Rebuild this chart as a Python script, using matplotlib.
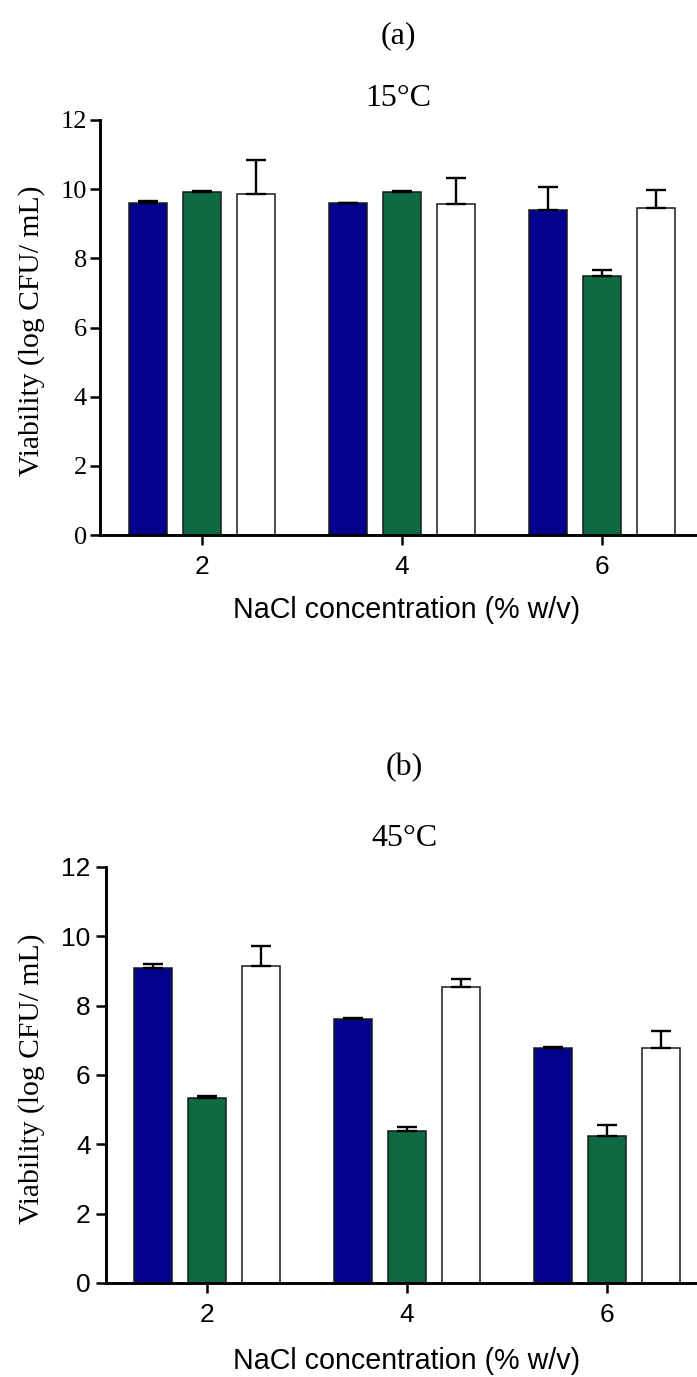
import matplotlib
matplotlib.use('Agg')
import matplotlib.pyplot as plt
import numpy as np

# NaCl concentration (% w/v)
nacl = ['2', '4', '6']

# 15 C panel
blue_15 = [9.59, 9.59, 9.39]
blue_15_err = [0.08, 0.02, 0.66]
green_15 = [9.93, 9.93, 7.49]
green_15_err = [0.03, 0.01, 0.17]
white_15 = [9.85, 9.57, 9.45]
white_15_err = [0.99, 0.75, 0.53]

# 45 C panel
blue_45 = [9.09, 7.61, 6.79]
blue_45_err = [0.10, 0.02, 0.01]
green_45 = [5.34, 4.39, 4.23]
green_45_err = [0.05, 0.12, 0.33]
white_45 = [9.14, 8.53, 6.77]
white_45_err = [0.58, 0.25, 0.49]

yticks = [0, 2, 4, 6, 8, 10, 12]

serif = 'Liberation Serif'
sans = 'Liberation Sans'
W, H = 697, 1377

fig = plt.figure(figsize=(W / 100, H / 100), dpi=100)


def draw_panel(ax, series, xlim, ytick_font, ytick_pad):
    x = np.arange(len(nacl))
    width = 0.19
    offsets = [-0.27, 0, 0.27]
    colors = ['#02028C', '#0E6A43', 'white']
    for (vals, errs), off, col in zip(series, offsets, colors):
        ax.bar(x + off, vals, width, color=col, edgecolor='#1a1a1a',
               linewidth=1.1, zorder=2)
        ax.errorbar(x + off, vals, yerr=[np.zeros(len(errs)), errs],
                    fmt='none', ecolor='black', elinewidth=1.7,
                    capsize=7, capthick=1.7, zorder=3)
    ax.set_xlim(*xlim)
    ax.set_ylim(0, 12)
    ax.set_yticks(yticks)
    ax.set_xticks(x)
    ax.set_xticklabels(nacl, fontfamily=sans, fontsize=19)
    ax.set_yticklabels([str(t) for t in yticks], fontfamily=ytick_font, fontsize=19)
    for s in ['top', 'right']:
        ax.spines[s].set_visible(False)
    for s in ['left', 'bottom']:
        ax.spines[s].set_linewidth(2.1)
    ax.tick_params(axis='both', length=7, width=1.8, direction='out')
    ax.tick_params(axis='x', pad=7.5)
    ax.tick_params(axis='y', pad=ytick_pad)


ax1 = fig.add_axes([100 / W, (H - 535) / H, 597 / W, 415 / H])
draw_panel(ax1, [(blue_15, blue_15_err), (green_15, green_15_err), (white_15, white_15_err)],
           (-0.51, 2.475), serif, 2.5)

ax2 = fig.add_axes([106 / W, (H - 1283) / H, 591 / W, 416 / H])
draw_panel(ax2, [(blue_45, blue_45_err), (green_45, green_45_err), (white_45, white_45_err)],
           (-0.505, 2.45), sans, 4)

fig.text(398 / W, 1 - 36 / H, '(a)', ha='center', va='center', family=serif, fontsize=23)
fig.text(398 / W, 1 - 99 / H, '15°C', ha='center', va='center', family=serif, fontsize=23)
fig.text(404 / W, 1 - 768 / H, '(b)', ha='center', va='center', family=serif, fontsize=23)
fig.text(404 / W, 1 - 838 / H, '45°C', ha='center', va='center', family=serif, fontsize=23)

fig.text(32 / W, 1 - 331 / H, 'Viability (log CFU/ mL)', rotation=90, ha='center',
         va='center', family=serif, fontsize=21.3)
fig.text(32 / W, 1 - 1079 / H, 'Viability (log CFU/ mL)', rotation=90, ha='center',
         va='center', family=serif, fontsize=21.3)

fig.text(407 / W, 1 - 610 / H, 'NaCl concentration (% w/v)', ha='center', va='center',
         family=sans, fontsize=20.6)
fig.text(407 / W, 1 - 1361 / H, 'NaCl concentration (% w/v)', ha='center', va='center',
         family=sans, fontsize=20.6)

fig.savefig('out.png', dpi=100)
